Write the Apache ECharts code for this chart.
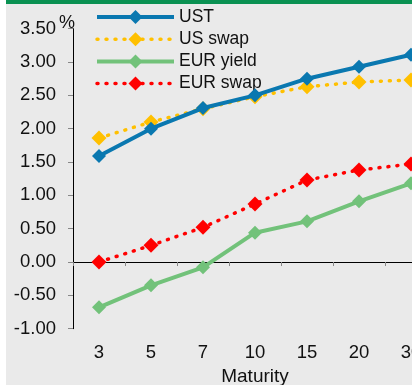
<!DOCTYPE html>
<html><head><meta charset="utf-8">
<script src="https://cdn.jsdelivr.net/npm/echarts@6/dist/echarts.min.js"></script>
<style>
html,body{margin:0;padding:0;background:#fff;overflow:hidden;width:412px;height:385px;}
#bar{position:absolute;left:6px;top:0;width:450px;height:4px;background:#0a9152;}
#c{position:absolute;left:6px;top:4px;width:440px;height:381px;background:#eaeaea;}
</style></head>
<body>
<div id="bar"></div>
<div id="c"></div>
<script>
const maturities = ['3', '5', '7', '10', '15', '20', '30'];
const ust = [1.59, 2.00, 2.31, 2.50, 2.75, 2.93, 3.11];
const usSwap = [1.86, 2.10, 2.30, 2.48, 2.63, 2.70, 2.73];
const eurYield = [-0.68, -0.35, -0.08, 0.44, 0.61, 0.91, 1.18];
const eurSwap = [0.00, 0.25, 0.52, 0.87, 1.23, 1.38, 1.47];

const FONT = 'Liberation Sans, Arial, sans-serif';
const chart = echarts.init(document.getElementById('c'), null, {renderer: 'canvas'});
const dot = [1, 8];
const C = {ust: '#0a78b0', us: '#ffc000', ey: '#72c27a', es: '#ff0000'};
chart.setOption({
  backgroundColor: '#eaeaea',
  animation: false,
  textStyle: {fontFamily: FONT},
  grid: {left: 67, top: 24.7, width: 364, height: 300, containLabel: false, outerBoundsMode: 'none'},
  legend: {
    orient: 'vertical', left: 89, top: 4, padding: 0,
    itemWidth: 77, itemHeight: 17.5, itemGap: 4.2,
    textStyle: {fontSize: 17.5, color: '#111', fontFamily: FONT},
    data: [
      {name: 'UST', lineStyle: {color: C.ust, width: 4, type: 'solid'}},
      {name: 'US swap', lineStyle: {color: C.us, width: 3.5, type: dot, cap: 'round'}},
      {name: 'EUR yield', lineStyle: {color: C.ey, width: 4, type: 'solid'}},
      {name: 'EUR swap', lineStyle: {color: C.es, width: 3.5, type: dot, cap: 'round'}}
    ]
  },
  xAxis: [{
    type: 'category', data: maturities, boundaryGap: true, position: 'bottom',
    axisLine: {show: false, onZero: false},
    axisTick: {show: false},
    axisLabel: {margin: 15, fontSize: 18.5, color: '#111', fontFamily: FONT, interval: 0},
    name: 'Maturity', nameLocation: 'middle', nameGap: 39,
    nameTextStyle: {fontSize: 19, color: '#111', fontFamily: FONT},
    splitLine: {show: false}
  }, {
    type: 'category', data: maturities, boundaryGap: true, position: 'top',
    axisLine: {show: true, onZero: true, lineStyle: {color: '#000', width: 1}},
    axisTick: {show: true, inside: true, length: 4, lineStyle: {color: '#888'}, interval: 0},
    axisLabel: {show: false},
    splitLine: {show: false}
  }],
  yAxis: {
    type: 'value', min: -1, max: 3.5, interval: 0.5,
    axisLine: {show: true, lineStyle: {color: '#000', width: 1}},
    axisTick: {show: true, length: 5, lineStyle: {color: '#888'}},
    axisLabel: {margin: 17, fontSize: 18.5, color: '#111', fontFamily: FONT,
      formatter: v => v.toFixed(2)},
    splitLine: {show: false},
    name: '%', nameLocation: 'end', nameGap: -3, nameMoveOverlap: false,
    nameTextStyle: {fontSize: 18, color: '#111', fontFamily: FONT, padding: [0, 12, 0, 0]}
  },
  series: [
    {name: 'UST', type: 'line', data: ust, symbol: 'diamond', symbolSize: 14,
      itemStyle: {color: C.ust}, lineStyle: {color: C.ust, width: 4}, z: 4},
    {name: 'US swap', type: 'line', data: usSwap, symbol: 'diamond', symbolSize: 15,
      itemStyle: {color: C.us}, lineStyle: {color: C.us, width: 3.5, type: dot, cap: 'round'}, z: 3},
    {name: 'EUR yield', type: 'line', data: eurYield, symbol: 'diamond', symbolSize: 14,
      itemStyle: {color: C.ey}, lineStyle: {color: C.ey, width: 4}, z: 2},
    {name: 'EUR swap', type: 'line', data: eurSwap, symbol: 'diamond', symbolSize: 15,
      itemStyle: {color: C.es}, lineStyle: {color: C.es, width: 3.5, type: dot, cap: 'round'}, z: 3}
  ]
});
</script>
</body></html>
